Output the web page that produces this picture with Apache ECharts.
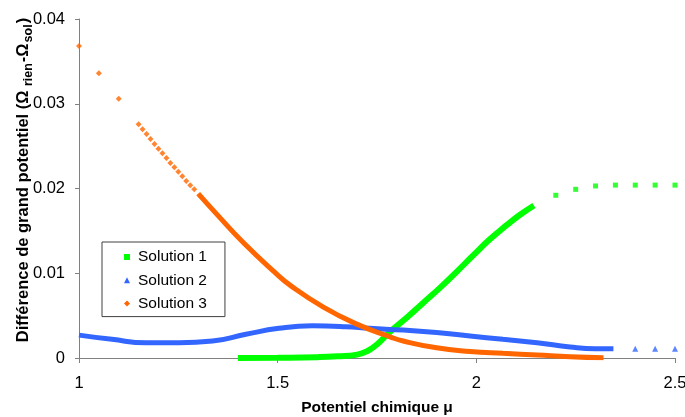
<!DOCTYPE html>
<html>
<head>
<meta charset="utf-8">
<script src="https://cdn.jsdelivr.net/npm/echarts@6/dist/echarts.min.js"></script>
<style>
html,body{margin:0;padding:0;background:#fff;}
#c{width:685px;height:417px;}
</style>
</head>
<body>
<div id="c"></div>
<script>
// Solution 1 (green squares)
var sol1DenseX = [1.40, 1.50, 1.60, 1.65, 1.70, 1.725, 1.75, 1.783, 1.826, 1.866, 1.909, 1.951, 1.992, 2.034, 2.077, 2.110, 2.145];
var sol1DenseY = [0, 0.00003, 0.0001, 0.0002, 0.0004, 0.0008, 0.0016, 0.0031, 0.0048, 0.0065, 0.0083, 0.0102, 0.0121, 0.0140, 0.0157, 0.0169, 0.0180];
var sol1SparseX = [2.20, 2.25, 2.30, 2.35, 2.40, 2.45, 2.50];
var sol1SparseY = [0.0192, 0.0199, 0.0203, 0.0204, 0.0204, 0.0204, 0.0204];

// Solution 2 (blue triangles)
var sol2DenseX = [1.00, 1.083, 1.169, 1.252, 1.336, 1.42, 1.503, 1.587, 1.671, 1.732, 1.816, 1.90, 1.984, 2.067, 2.153, 2.236, 2.30, 2.345];
var sol2DenseY = [0.0027, 0.0022, 0.0018, 0.0018, 0.0020, 0.0028, 0.0035, 0.0038, 0.0037, 0.0035, 0.0033, 0.0030, 0.0026, 0.0022, 0.0018, 0.0013, 0.0011, 0.0011];
var sol2SparseX = [2.40, 2.45, 2.50];
var sol2SparseY = [0.0011, 0.0011, 0.0011];

// Solution 3 (orange diamonds)
var sol3SparseX = [1.00, 1.05, 1.10, 1.15, 1.16, 1.17, 1.18, 1.19, 1.20, 1.21, 1.22, 1.23, 1.24, 1.25, 1.26, 1.27, 1.28, 1.29];
var sol3SparseY = [0.0368, 0.0336, 0.0306, 0.02757, 0.02698, 0.02643, 0.02584, 0.02525, 0.02470, 0.02415, 0.02360, 0.02301, 0.02250, 0.02199, 0.02144, 0.02088, 0.02037, 0.01990];
var sol3DenseX = [1.30, 1.35, 1.414, 1.493, 1.531, 1.615, 1.699, 1.783, 1.816, 1.90, 1.984, 2.067, 2.153, 2.236, 2.32];
var sol3DenseY = [0.0194, 0.0168, 0.0136, 0.0101, 0.0086, 0.0060, 0.0040, 0.0025, 0.0020, 0.0012, 0.00078, 0.00055, 0.00035, 0.00015, 0.00002];

// Axis ticks
var xTicks = {min: 1, max: 2.5, interval: 0.5};
var yTicks = {min: 0, max: 0.04, interval: 0.01};

var names = ['Solution 1', 'Solution 2', 'Solution 3'];
var colors = ['#00ff00', '#3366ff', '#ff6600'];
var icons = ['rect', 'triangle', 'diamond'];

function zip(xs, ys) { return xs.map(function (x, i) { return [x, ys[i]]; }); }

var FONT = 'Liberation Sans, Arial, sans-serif';

var chart = echarts.init(document.getElementById('c'), null, {renderer: 'canvas'});

function denseSeries(name, color, xs, ys, width) {
  return {
    name: name, type: 'line', data: zip(xs, ys), smooth: 0.5,
    showSymbol: false, symbol: 'none',
    lineStyle: {color: color, width: width},
    itemStyle: {color: color},
    emphasis: {disabled: true}
  };
}
function sparseSeries(name, color, xs, ys, symbol, size) {
  return {
    name: name, type: 'scatter', data: zip(xs, ys),
    symbol: symbol, symbolSize: size,
    itemStyle: {color: color},
    emphasis: {disabled: true}
  };
}

chart.setOption({
  animation: false,
  backgroundColor: '#ffffff',
  textStyle: {fontFamily: FONT},
  grid: {left: 79, right: 10, top: 19, bottom: 59, containLabel: false, outerBoundsMode: 'none'},
  legend: {
    orient: 'vertical', left: 102, top: 242,
    data: names.map(function (n, i) { return {name: n, icon: icons[i], itemStyle: {color: colors[i]}}; }),
    itemWidth: 6, itemHeight: 6, itemGap: 7.3,
    padding: [7, 18, 5, 22],
    backgroundColor: '#ffffff', borderColor: '#404040', borderWidth: 1,
    textStyle: {color: '#000', fontSize: 15.5, fontFamily: FONT, lineHeight: 16, padding: [0, 0, 0, 3]},
    selectedMode: false
  },
  xAxis: {
    type: 'value', min: xTicks.min, max: xTicks.max, interval: xTicks.interval,
    axisLine: {show: true, lineStyle: {color: '#808080', width: 1}},
    axisTick: {show: true, length: 5, lineStyle: {color: '#808080'}},
    axisLabel: {color: '#000', fontSize: 16.5, fontFamily: FONT, margin: 17},
    splitLine: {show: false},
    name: 'Potentiel chimique μ', nameLocation: 'middle', nameGap: 42, nameMoveOverlap: false,
    nameTextStyle: {color: '#000', fontSize: 15.5, fontWeight: 'bold', fontFamily: FONT}
  },
  yAxis: {
    type: 'value', min: yTicks.min, max: yTicks.max, interval: yTicks.interval,
    axisLine: {show: true, lineStyle: {color: '#808080', width: 1}},
    axisTick: {show: true, length: 4, lineStyle: {color: '#808080'}},
    axisLabel: {color: '#000', fontSize: 16.5, fontFamily: FONT, margin: 14},
    splitLine: {show: false},
    name: '{b|Différence de grand potentiel (Ω}{s| rien}{b|-Ω}{s|sol}{b|)}',
    nameLocation: 'middle', nameGap: 47, nameRotate: 90, nameMoveOverlap: false,
    nameTextStyle: {
      color: '#000', fontSize: 16.5, fontWeight: 'bold', fontFamily: FONT,
      padding: [0, 0, 0, 17],
      rich: {
        b: {color: '#000', fontSize: 16.5, fontWeight: 'bold', fontFamily: FONT, verticalAlign: 'bottom', lineHeight: 20},
        s: {color: '#000', fontSize: 12.5, fontWeight: 'bold', fontFamily: FONT, verticalAlign: 'bottom', lineHeight: 20, padding: [0, 1, -3, 1]}
      }
    }
  },
  series: [
    denseSeries(names[0], colors[0], sol1DenseX, sol1DenseY, 6),
    sparseSeries(names[0], colors[0], sol1SparseX, sol1SparseY, 'rect', 5),
    denseSeries(names[1], colors[1], sol2DenseX, sol2DenseY, 5),
    sparseSeries(names[1], colors[1], sol2SparseX, sol2SparseY, 'triangle', 6),
    denseSeries(names[2], colors[2], sol3DenseX, sol3DenseY, 5),
    sparseSeries(names[2], colors[2], sol3SparseX, sol3SparseY, 'diamond', 6)
  ]
});
</script>
</body>
</html>
